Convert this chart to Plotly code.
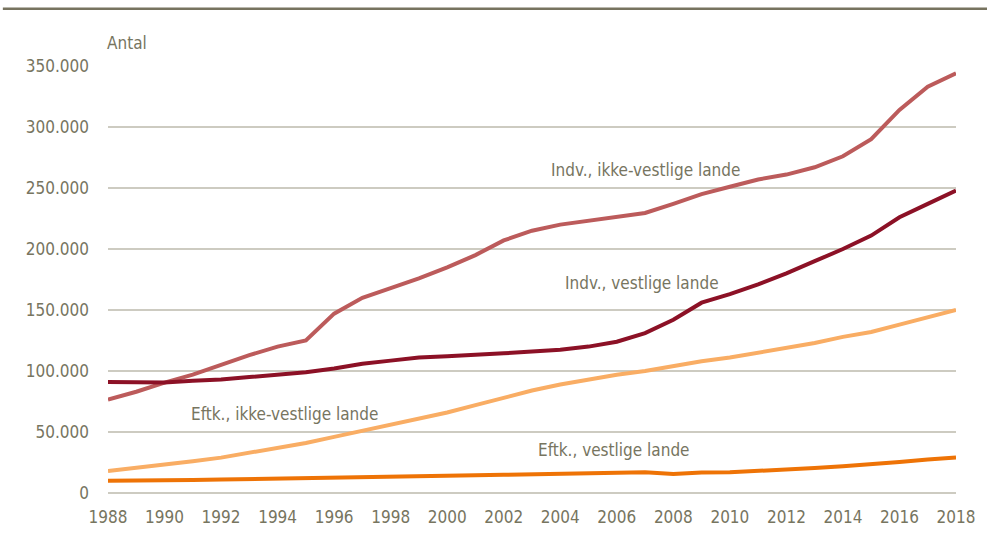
import plotly.graph_objects as go

years = list(range(1988, 2019))

indv_ikke_vestlige = [76500, 83000, 90500, 97000, 105000, 113000, 120000, 125000, 147000, 160000,
                      168000, 176000, 185000, 195000, 207000, 215000, 220000, 223000, 226000, 229500,
                      237000, 245000, 251000, 257000, 261000, 267000, 276000, 290000, 314000, 333000, 344000]
indv_vestlige = [91000, 90500, 90500, 92000, 93000, 95000, 97000, 99000, 102000, 106000,
                 108500, 111000, 112000, 113000, 114500, 116000, 117500, 120000, 124000, 131000,
                 142000, 156000, 163000, 171000, 180000, 190000, 200000, 211000, 226000, 237000, 248000]
eftk_ikke_vestlige = [18000, 20500, 23000, 26000, 29000, 33000, 37000, 41000, 46000, 51000,
                      56000, 61000, 66000, 72000, 78000, 84000, 89000, 93000, 97000, 100000,
                      104000, 108000, 111000, 115000, 119000, 123000, 128000, 132000, 138000, 144000, 150000]
eftk_vestlige = [10000, 10000, 10300, 10600, 11000, 11300, 11700, 12100, 12600, 13000,
                 13400, 13800, 14100, 14500, 14900, 15300, 15700, 16200, 16600, 17000,
                 15500, 16800, 17000, 18000, 19500, 20500, 22000, 23500, 25500, 27500, 29000]

series_names = ["Indv., ikke-vestlige lande", "Indv., vestlige lande",
                "Eftk., ikke-vestlige lande", "Eftk., vestlige lande"]
series_values = [indv_ikke_vestlige, indv_vestlige, eftk_ikke_vestlige, eftk_vestlige]
colors = ["#bc5b5b", "#8c1126", "#f9ad64", "#ee7306"]

# label positions (year, value) for the inline series labels
label_pos = [(2007.0, 264500), (2006.9, 172500), (1994.25, 65000), (2005.9, 35000)]

FONT = "DejaVu Sans Condensed, Liberation Sans Narrow, Liberation Sans, Arial, sans-serif"
TXT = "#77755f"

fig = go.Figure()
for name, vals, col in zip(series_names, series_values, colors):
    fig.add_trace(go.Scatter(x=years, y=vals, mode="lines", name=name,
                             line=dict(color=col, width=4)))

for name, (lx, ly) in zip(series_names, label_pos):
    fig.add_annotation(x=lx, y=ly, text=name, showarrow=False,
                       font=dict(family=FONT, size=17, color=TXT))

fig.add_annotation(x=0, y=1.0, xref="paper", yref="paper", text="Antal",
                   showarrow=False, xanchor="left", yanchor="bottom", yshift=11, xshift=-3,
                   font=dict(family=FONT, size=17, color=TXT))

# top rule above the chart
fig.add_shape(type="line", xref="paper", yref="paper",
              x0=-0.124, x1=1.04, y0=1.134, y1=1.134,
              line=dict(color="#77735f", width=2.5))

fig.update_layout(
    width=987, height=539,
    margin=dict(l=108, r=30, t=66, b=41),
    plot_bgcolor="white", paper_bgcolor="white",
    showlegend=False,
    separators=",.",
    font=dict(family=FONT, size=17, color=TXT),
    xaxis=dict(range=[1988, 2018], tickvals=list(range(1988, 2019, 2)),
               showgrid=False, zeroline=False, showline=False,
               ticks="", ticklabelstandoff=12, tickfont=dict(size=17, color=TXT)),
    yaxis=dict(range=[0, 350000], dtick=50000, tickformat=",d",
               showgrid=True, gridcolor="#cdcbc1", gridwidth=1.5,
               zeroline=True, zerolinecolor="#cdcbc1", zerolinewidth=1.5,
               ticks="", ticklabelstandoff=18, tickfont=dict(size=17, color=TXT)),
)

# drop the default 8px body margin so the figure sits at the page origin
fig.write_html("out.html", config={"displayModeBar": False},
               post_script="document.body.style.margin='0';")
